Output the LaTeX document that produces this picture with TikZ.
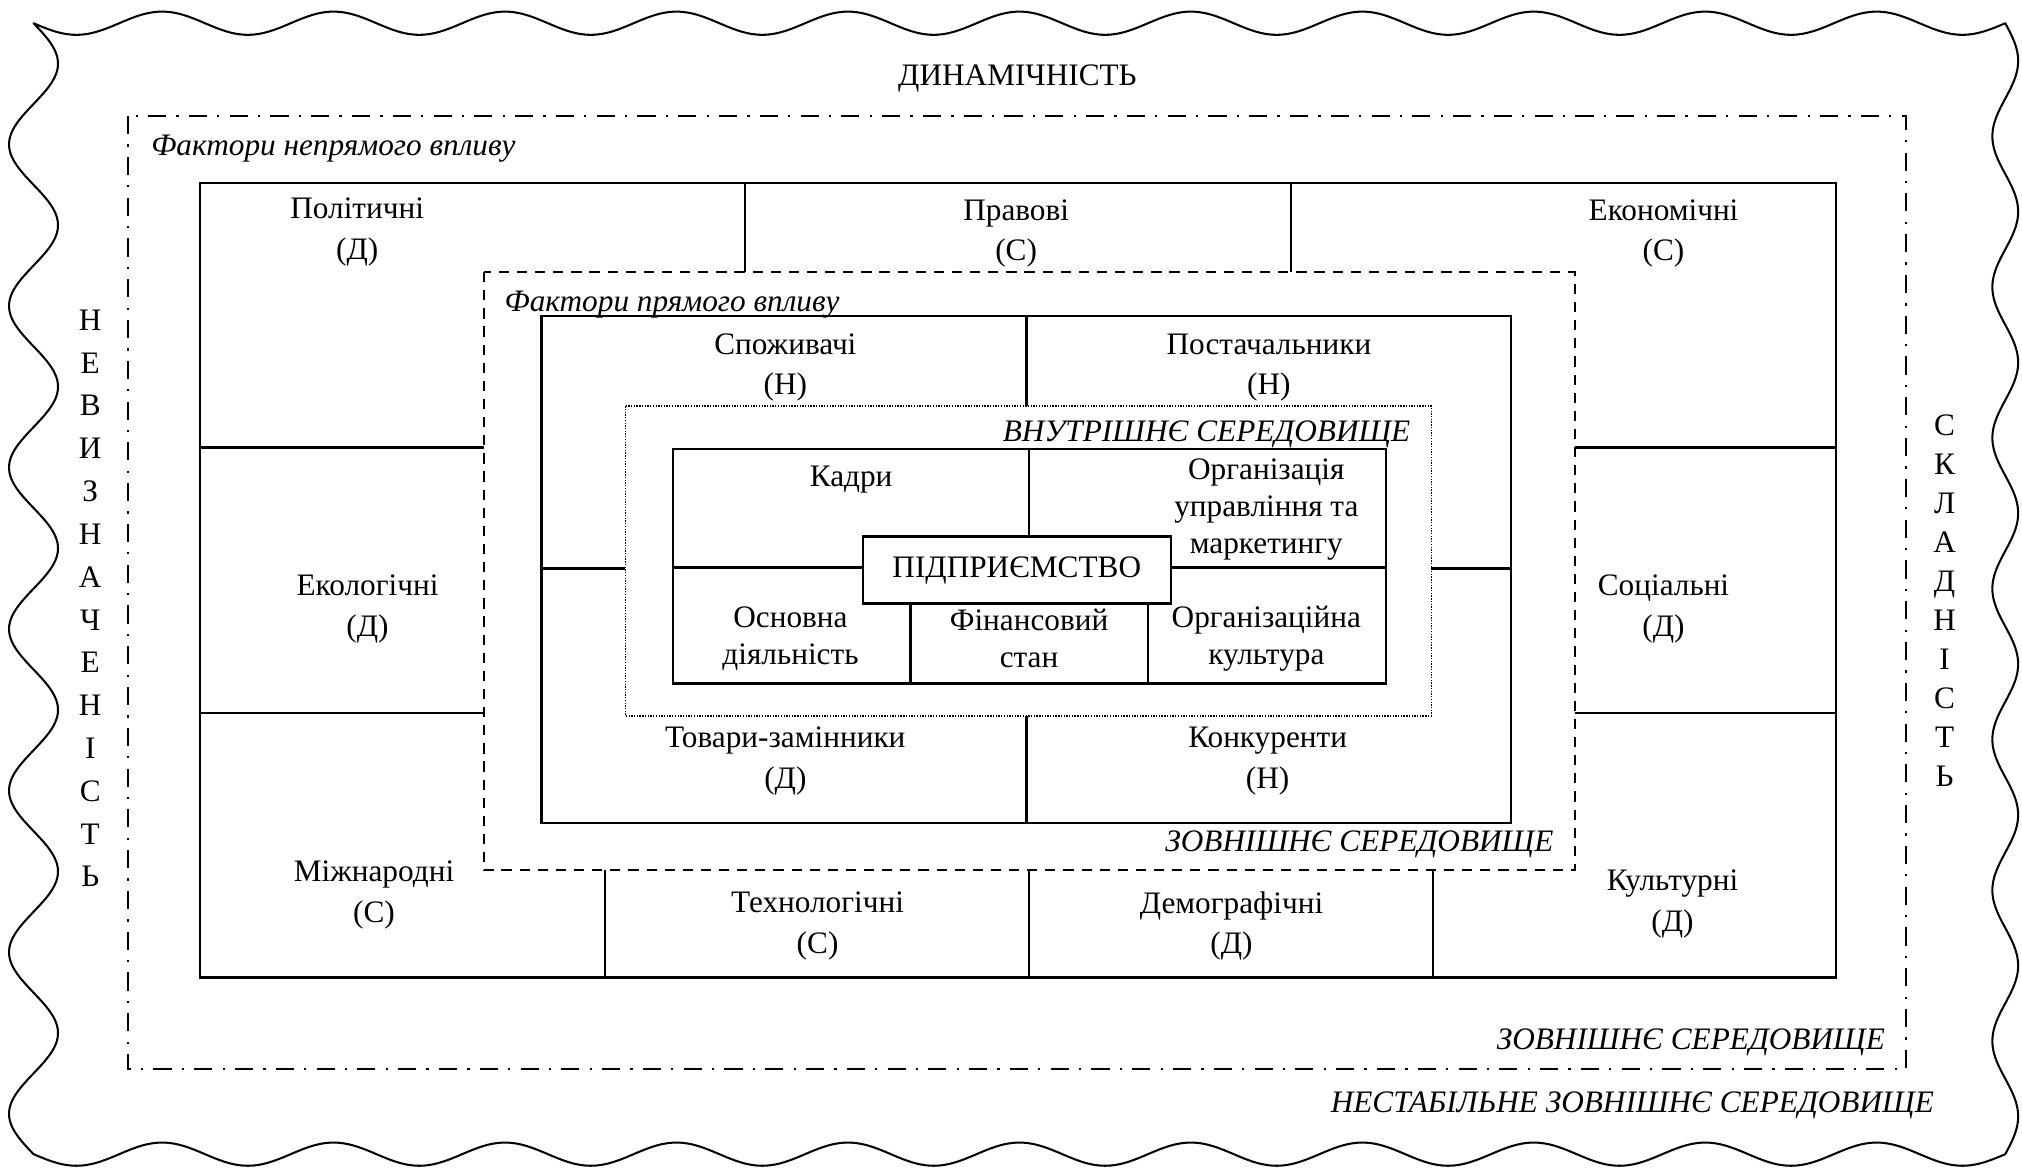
\documentclass[tikz,border=0pt]{standalone}
\usepackage{fontspec}
\setmainfont{Liberation Serif}
\tikzset{
  every picture/.style={
    x=0.02cm, y=-0.02cm,
    font=\fontsize{13.8}{18}\selectfont
  },
  wavyline/.style={line width=0.9pt, line join=round},
  cell/.style={line width=1pt},
  thickcell/.style={line width=1.4pt},
  zoneline/.style={
    line width=0.9pt,
    dash pattern=on 8pt off 4.5pt on 1pt off 4.5pt
  },
  directline/.style={
    line width=0.9pt,
    dash pattern=on 4.5pt off 3.5pt
  },
  innerline/.style={
    line width=0.7pt,
    dash pattern=on 0.6pt off 0.6pt
  },
  lbl/.style={align=center, inner sep=0pt},
  tightlbl/.style={align=center, inner sep=0pt,
    font=\fontsize{13.8}{16.2}\selectfont},
  zonelbl/.style={inner sep=0pt, font=\fontsize{13.8}{18}\selectfont\itshape},
  vertlbl/.style={align=center, inner sep=0pt}
}

\begin{document}
\begin{tikzpicture}
  \useasboundingbox (0,0) rectangle (1568,907);

  % wavy border
  \draw[wavyline]
    plot[domain=26:1555, samples=300, smooth] (\x, {18+9*sin((\x-26)/132.96*360)})
    -- plot[domain=18:895, samples=200, smooth] ({1555+10*sin((\x-18)/116.93*360)}, \x)
    -- plot[domain=1555:26, samples=300, smooth] (\x, {895+9*sin((\x-26)/132.96*360)})
    -- plot[domain=895:18, samples=200, smooth] ({26+19*sin((\x-18)/125.29*360)}, \x)
    -- cycle;

  % zones
  \coordinate (extNW) at (99,90);
  \coordinate (extSE) at (1478,829);
  \coordinate (indNW) at (155,142);
  \coordinate (indSE) at (1424,758);
  \coordinate (dirNW) at (375,211);
  \coordinate (dirSE) at (1221,675);
  \coordinate (dgNW) at (420,245);
  \coordinate (dgSE) at (1172,638);
  \coordinate (intNW) at (485,315);
  \coordinate (intSE) at (1110,555);
  \coordinate (igNW) at (522,348);
  \coordinate (igSE) at (1075,530);

  \draw[zoneline] (extNW) rectangle (extSE);
  \draw[cell] (indNW) rectangle (indSE);
  \draw[directline] (dirNW) rectangle (dirSE);
  \draw[cell] (dgNW) rectangle (dgSE);
  \draw[innerline] (intNW) rectangle (intSE);
  \draw[cell] (igNW) rectangle (igSE);

  % indirect factors grid
  \draw[cell] (578,142) -- (dirNW -| 578,0);
  \draw[cell] (1001,142) -- (dirNW -| 1001,0);
  \draw[cell] (155,347) -- (dirNW |- 0,347);
  \draw[cell] (155,553) -- (dirNW |- 0,553);
  \draw[cell] (dirSE |- 0,347) -- (1424,347);
  \draw[cell] (dirSE |- 0,553) -- (1424,553);
  \draw[cell] (dirSE -| 469,0) -- (469,758);
  \draw[cell] (dirSE -| 798,0) -- (798,758);
  \draw[cell] (dirSE -| 1111,0) -- (1111,758);

  % direct factors grid
  \draw[cell] (796,245) -- (intNW -| 796,0);
  \draw[cell] (intSE -| 796,0) -- (796,638);
  \draw[thickcell] (420,441) -- (intNW |- 0,441);
  \draw[thickcell] (intSE |- 0,441) -- (1172,441);

  % internal grid
  \node[draw, cell, minimum width=4.78cm, minimum height=1.04cm,
    inner sep=0pt] (firm) at (788.5,442) {ПІДПРИЄМСТВО};
  \draw[cell] (522,440) -- (firm.west |- 0,440);
  \draw[cell] (firm.east |- 0,440) -- (1075,440);
  \draw[cell] (798,348) -- (firm.north -| 798,0);
  \draw[cell] (firm.south -| 706,0) -- (706,530);
  \draw[cell] (firm.south -| 890,0) -- (890,530);

  % indirect factors
  \node[lbl] (polit) at (277,180) {Політичні\\(Д)};
  \node[lbl] (legal) at (788,181) {Правові\\(С)};
  \node[lbl] (econ) at (1290,181) {Економічні\\(С)};
  \node[lbl] (ecol) at (285,472) {Екологічні\\(Д)};
  \node[lbl] (social) at (1290,472) {Соціальні\\(Д)};
  \node[lbl] (intl) at (290,694) {Міжнародні\\(С)};
  \node[lbl] (tech) at (634,718) {Технологічні\\(С)};
  \node[lbl] (demo) at (955,718) {Демографічні\\(Д)};
  \node[lbl] (cultext) at (1297,701) {Культурні\\(Д)};

  % direct factors
  \node[lbl] (cons) at (609,285) {Споживачі\\(Н)};
  \node[lbl] (supp) at (984,285) {Постачальники\\(Н)};
  \node[lbl] (subst) at (609,590) {Товари-замінники\\(Д)};
  \node[lbl] (compet) at (983,590) {Конкуренти\\(Н)};

  % internal
  \node[lbl] (staff) at (660,372) {Кадри};
  \node[tightlbl] (mgmt) at (982,395) {Організація\\управління та\\маркетингу};
  \node[tightlbl] (ops) at (613,495) {Основна\\діяльність};
  \node[tightlbl] (fin) at (798,495) {Фінансовий\\стан};
  \node[tightlbl] (orgcult) at (982,495) {Організаційна\\культура};

  % zone captions
  \node[zonelbl, anchor=west] (indcap) at (117,115) {Фактори непрямого впливу};
  \node[zonelbl, anchor=west] (dircap) at (391,236) {Фактори прямого впливу};
  \node[zonelbl, anchor=east] (intcap) at (1094,337) {ВНУТРІШНЄ СЕРЕДОВИЩЕ};
  \node[zonelbl, anchor=east] (extcap) at (1205,655) {ЗОВНІШНЄ СЕРЕДОВИЩЕ};
  \node[zonelbl, anchor=east] (extcap2) at (1462,808) {ЗОВНІШНЄ СЕРЕДОВИЩЕ};
  \node[zonelbl, anchor=east] (unstcap) at (1500,857) {НЕСТАБІЛЬНЕ ЗОВНІШНЄ СЕРЕДОВИЩЕ};

  % properties of the environment
  \node[lbl] (dyn) at (789,61) {ДИНАМІЧНІСТЬ};
  \node[vertlbl, font=\fontsize{13.8}{18.9}\selectfont] (uncert) at (70,464)
    {Н\\Е\\В\\И\\З\\Н\\А\\Ч\\Е\\Н\\І\\С\\Т\\Ь};
  \node[vertlbl, font=\fontsize{13.8}{17.2}\selectfont] (complx) at (1508,466)
    {С\\К\\Л\\А\\Д\\Н\\І\\С\\Т\\Ь};
\end{tikzpicture}
\end{document}
